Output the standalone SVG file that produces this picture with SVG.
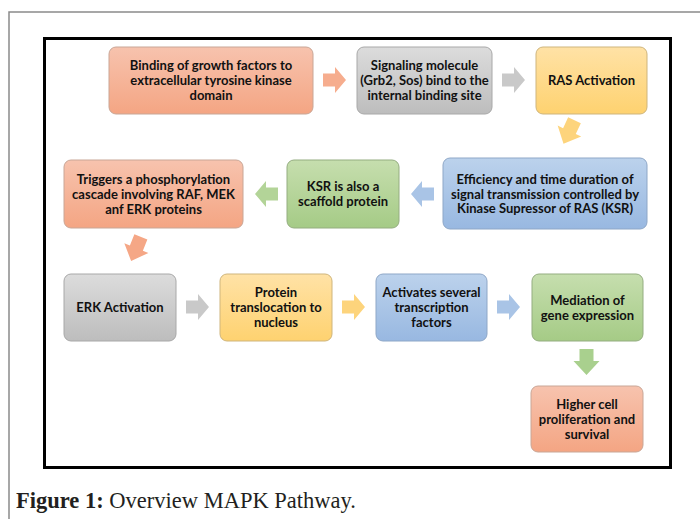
<svg xmlns="http://www.w3.org/2000/svg" width="700" height="519" viewBox="0 0 700 519">
<defs>
<linearGradient id="gRed" x1="0" y1="0" x2="0" y2="1"><stop offset="0" stop-color="#f7c3ae"/><stop offset="1" stop-color="#f4a583"/></linearGradient>
<linearGradient id="gGray" x1="0" y1="0" x2="0" y2="1"><stop offset="0" stop-color="#dcdcdc"/><stop offset="1" stop-color="#bdbdbd"/></linearGradient>
<linearGradient id="gYel" x1="0" y1="0" x2="0" y2="1"><stop offset="0" stop-color="#ffe2a6"/><stop offset="1" stop-color="#fed270"/></linearGradient>
<linearGradient id="gBlue" x1="0" y1="0" x2="0" y2="1"><stop offset="0" stop-color="#bcd2ec"/><stop offset="1" stop-color="#98b8e1"/></linearGradient>
<linearGradient id="gGreen" x1="0" y1="0" x2="0" y2="1"><stop offset="0" stop-color="#c6deae"/><stop offset="1" stop-color="#a5cb86"/></linearGradient>
<path id="arR" d="M0,6.5 H12 V0 L23,13 L12,26 V19.5 H0 Z"/>
<path id="arL" d="M23,6.5 H11 V0 L0,13 L11,26 V19.5 H23 Z"/>
<path id="arD" d="M-7,-13 H7 V-1 H13 L0,13 L-13,-1 H-7 Z"/>
</defs>
<style>
.red{fill:url(#gRed);stroke:#c9a696;stroke-width:1}
.gray{fill:url(#gGray);stroke:#a8a8a8;stroke-width:1}
.yel{fill:url(#gYel);stroke:#cfb57c;stroke-width:1}
.blue{fill:url(#gBlue);stroke:#8ea7c7;stroke-width:1}
.green{fill:url(#gGreen);stroke:#94ad80;stroke-width:1}
text{font-family:Lato,"Open Sans","Liberation Sans",sans-serif;font-weight:bold;font-size:13px;fill:#111;text-anchor:middle}
.cap{font-family:"Liberation Serif","DejaVu Serif",serif;font-size:22.5px;font-weight:normal;fill:#231f20;text-anchor:start}
</style>
<rect width="700" height="519" fill="#fff"/>
<path d="M9,519 V12 H700" fill="none" stroke="#8a8a8a" stroke-width="1.5"/>
<rect x="44.5" y="38.5" width="626" height="429" fill="#fff" stroke="#000" stroke-width="3"/>

<g id="connectors">
<use href="#arR" x="323" y="67" fill="#f6ad8e"/>
<use href="#arR" x="502" y="67" fill="#c9c9c9"/>
<use href="#arD" transform="translate(569,132) rotate(25)" fill="#fdd47c"/>
<use href="#arL" x="411" y="181" fill="#a9c4e6"/>
<use href="#arL" x="255" y="181" fill="#b3d498"/>
<use href="#arD" transform="translate(136,249) rotate(22)" fill="#f5a786"/>
<use href="#arR" x="186" y="294" fill="#c9c9c9"/>
<use href="#arR" x="342" y="294" fill="#fdd47c"/>
<use href="#arR" x="497" y="294" fill="#a9c4e6"/>
<use href="#arD" transform="translate(586.5,362)" fill="#a9d08e"/>
</g>

<g id="n1"><rect class="red" x="109" y="47" width="204" height="67" rx="7"/>
<text x="211" y="70">Binding of  growth factors to</text><text x="211" y="85">extracellular tyrosine kinase</text><text x="211" y="100">domain</text></g>
<g id="n2"><rect class="gray" x="357" y="47" width="135" height="67" rx="7"/>
<text x="424.5" y="70">Signaling molecule</text><text x="424.5" y="85">(Grb2, Sos) bind to the</text><text x="424.5" y="100">internal binding site</text></g>
<g id="n3"><rect class="yel" x="536" y="47" width="111" height="67" rx="7"/>
<text x="591.5" y="85">RAS Activation</text></g>
<g id="n4"><rect class="blue" x="443" y="158" width="204" height="71" rx="7"/>
<text x="545" y="184">Efficiency and time duration of</text><text x="545" y="198.5">signal transmission controlled by</text><text x="545" y="213">Kinase Supressor of RAS (KSR)</text></g>
<g id="n5"><rect class="green" x="287" y="160" width="112" height="68" rx="7"/>
<text x="343" y="191">KSR is also a</text><text x="343" y="206">scaffold protein</text></g>
<g id="n6"><rect class="red" x="64" y="160" width="179" height="68" rx="7"/>
<text x="153.5" y="183.5">Triggers a phosphorylation</text><text x="153.5" y="198.5">cascade involving RAF, MEK</text><text x="153.5" y="213.5">anf ERK proteins</text></g>
<g id="n7"><rect class="gray" x="64" y="274" width="112" height="67" rx="7"/>
<text x="120" y="312">ERK Activation</text></g>
<g id="n8"><rect class="yel" x="220" y="274" width="112" height="67" rx="7"/>
<text x="276" y="297">Protein</text><text x="276" y="312">translocation to</text><text x="276" y="327">nucleus</text></g>
<g id="n9"><rect class="blue" x="376" y="274" width="111" height="67" rx="7"/>
<text x="431.5" y="297">Activates several</text><text x="431.5" y="312">transcription</text><text x="431.5" y="327">factors</text></g>
<g id="n10"><rect class="green" x="532" y="274" width="111" height="67" rx="7"/>
<text x="587.5" y="304.5">Mediation of</text><text x="587.5" y="319.5">gene expression</text></g>
<g id="n11"><rect class="red" x="531" y="386" width="112" height="66" rx="7"/>
<text x="587" y="408.5">Higher cell</text><text x="587" y="423.5">proliferation and</text><text x="587" y="438.5">survival</text></g>

<text class="cap" x="16" y="508"><tspan font-weight="bold">Figure 1:</tspan> Overview MAPK Pathway.</text>
</svg>
